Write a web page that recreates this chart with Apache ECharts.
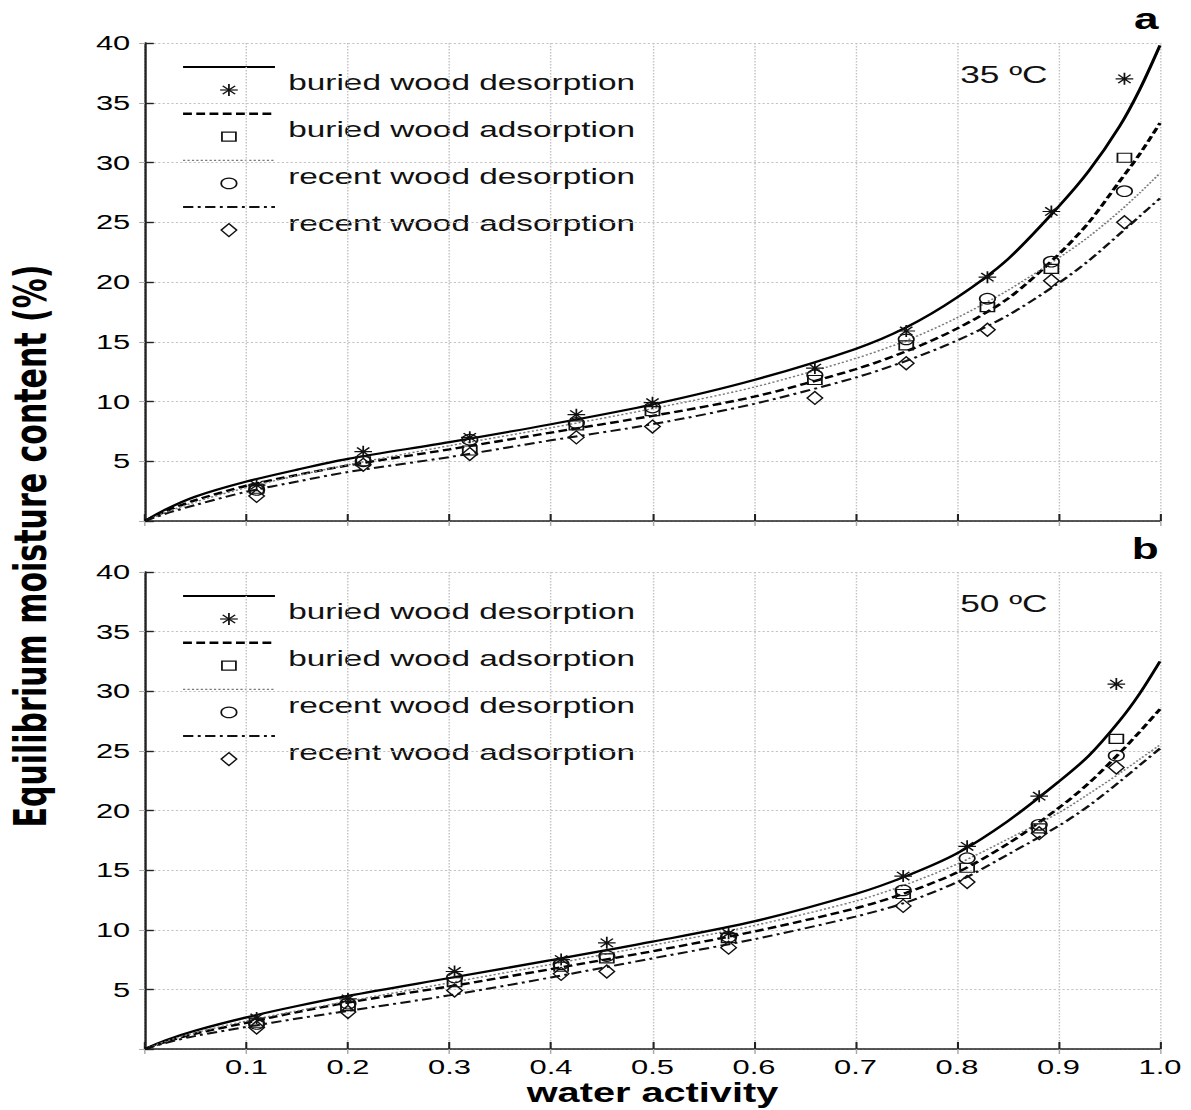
<!DOCTYPE html>
<html><head><meta charset="utf-8">
<script src="https://cdn.jsdelivr.net/npm/echarts@6/dist/echarts.min.js"></script>
<style>
html,body{margin:0;padding:0;background:#fff;overflow:hidden;}
#wrap{position:absolute;left:0;top:0;width:1191px;height:1110px;overflow:hidden;background:#fff;}
#chart{position:absolute;left:0;top:0;width:810px;height:1110px;transform:scaleX(1.47037);transform-origin:0 0;}
</style></head><body><div id="wrap"><div id="chart"></div></div>
<script>
// ---- data ----
const seriesNames = ['buried wood desorption', 'buried wood adsorption', 'recent wood desorption', 'recent wood adsorption'];
const panelTemps = ['35 ºC', '50 ºC'];
const panelLetters = ['a', 'b'];
const xTicks = [0.1, 0.2, 0.3, 0.4, 0.5, 0.6, 0.7, 0.8, 0.9, 1.0];
const yTicks = [5, 10, 15, 20, 25, 30, 35, 40];

// fitted model curves (water activity grid)
const awFit = [0, 0.02, 0.05, 0.1, 0.15, 0.2, 0.3, 0.4, 0.5, 0.6, 0.7, 0.75, 0.8, 0.85, 0.9, 0.93, 0.96, 0.98, 1.0];
// panel a, 35 ºC
const fitA_buriedDes = [0, 0.95, 2.05, 3.3, 4.3, 5.2, 6.6, 8.1, 9.75, 11.8, 14.4, 16.2, 18.7, 21.9, 26.3, 29.3, 33.0, 36.1, 39.8];
const fitA_buriedAds = [0, 0.8, 1.75, 2.95, 3.85, 4.65, 6.0, 7.4, 8.8, 10.4, 12.7, 14.2, 16.1, 18.6, 22.3, 25.0, 28.4, 30.7, 33.3];
const fitA_recentDes = [0, 0.7, 1.6, 2.8, 3.8, 4.7, 6.3, 7.8, 9.4, 11.2, 13.6, 15.1, 17.0, 19.3, 22.0, 23.8, 25.9, 27.45, 29.1];
const fitA_recentAds = [0, 0.6, 1.35, 2.45, 3.3, 4.1, 5.35, 6.75, 8.1, 9.8, 12.0, 13.4, 15.1, 17.2, 19.9, 21.8, 24.0, 25.5, 27.0];
// panel b, 50 ºC
const fitB_buriedDes = [0, 0.72, 1.55, 2.65, 3.6, 4.45, 5.95, 7.45, 9.0, 10.7, 13.0, 14.5, 16.4, 19.1, 22.4, 24.6, 27.5, 29.8, 32.5];
const fitB_buriedAds = [0, 0.58, 1.3, 2.2, 3.1, 3.9, 5.25, 6.7, 8.2, 9.85, 11.8, 13.1, 14.8, 17.2, 20.2, 22.3, 24.8, 26.6, 28.5];
const fitB_recentDes = [0, 0.62, 1.38, 2.35, 3.2, 4.0, 5.55, 7.1, 8.7, 10.35, 12.4, 13.8, 15.5, 17.6, 19.8, 21.4, 23.1, 24.3, 25.5];
const fitB_recentAds = [0, 0.5, 1.1, 1.85, 2.55, 3.2, 4.5, 6.0, 7.6, 9.2, 11.1, 12.3, 14.0, 16.3, 18.7, 20.4, 22.4, 23.8, 25.2];

// experimental points
const awA = [0.11, 0.215, 0.32, 0.425, 0.5, 0.66, 0.75, 0.83, 0.893, 0.965];
const expA_buriedDes = [3.0, 5.8, 7.0, 8.9, 9.9, 12.8, 15.9, 20.4, 25.9, 37.0];
const expA_buriedAds = [2.7, 5.0, 5.9, 8.0, 9.2, 11.8, 14.7, 17.9, 21.1, 30.4];
const expA_recentDes = [2.6, 5.0, 6.8, 8.2, 9.5, 12.2, 15.2, 18.6, 21.7, 27.6];
const expA_recentAds = [2.1, 4.7, 5.6, 7.0, 7.9, 10.3, 13.2, 16.0, 20.1, 25.0];

const awB = [0.11, 0.2, 0.305, 0.41, 0.455, 0.575, 0.747, 0.81, 0.881, 0.957];
const expB_buriedDes = [2.6, 4.2, 6.5, 7.5, 8.9, 9.7, 14.5, 17.0, 21.2, 30.6];
const expB_buriedAds = [2.2, 3.6, 5.6, 6.9, 7.6, 9.3, 13.0, 15.2, 18.5, 26.0];
const expB_recentDes = [2.1, 3.8, 6.0, 7.1, 7.8, 9.4, 13.3, 16.0, 18.8, 24.6];
const expB_recentAds = [1.8, 3.1, 4.9, 6.3, 6.5, 8.5, 12.0, 14.0, 18.1, 23.6];

// ---- build ----
const fitsByPanel = [
  [fitA_buriedDes, fitA_buriedAds, fitA_recentDes, fitA_recentAds],
  [fitB_buriedDes, fitB_buriedAds, fitB_recentDes, fitB_recentAds]
];
const expByPanel = [
  [expA_buriedDes, expA_buriedAds, expA_recentDes, expA_recentAds],
  [expB_buriedDes, expB_buriedAds, expB_recentDes, expB_recentAds]
];
const awByPanel = [awA, awB];

const lineStyles = [
  { color: '#000', width: 2.2, type: 'solid' },
  { color: '#000', width: 2.4, type: [6, 3] },
  { color: '#7a7a7a', width: 1.4, type: [1.5, 1.5] },
  { color: '#111', width: 2.0, type: [7, 3, 2, 3] }
];
const STAR = 'path://M10 0L10 20M0 10L20 10M3 3L17 17M17 3L3 17';
const markers = [
  { symbol: STAR, size: [12, 12] },
  { symbol: 'rect', size: [9.5, 9] },
  { symbol: 'circle', size: [10.5, 10.5] },
  { symbol: 'diamond', size: [10.5, 13] }
];

const GL = 98.6, GW = 690.3;
const grids = [
  { left: GL, top: 43, width: GW, height: 478 },
  { left: GL, top: 572, width: GW, height: 477 }
];

const xAxes = [], yAxes = [], series = [];
const gridLine = { show: true, lineStyle: { color: '#c4c4c4', width: 1, type: [1.5, 1.5] } };
[0, 1].forEach(p => {
  xAxes.push({
    type: 'value', gridIndex: p, min: 0, max: 1, interval: 0.1, position: 'bottom',
    axisLine: { show: true, onZero: false, lineStyle: { color: '#222', width: 1.6 } },
    axisTick: { show: true, inside: true, length: 7, lineStyle: { color: '#222', width: 1.4 } },
    axisLabel: {
      show: p === 1, margin: 7, color: '#000', fontSize: 21,
      fontFamily: '"Liberation Sans Narrow", "Liberation Sans", Arial, sans-serif',
      formatter: v => (xTicks.some(t => Math.abs(t - v) < 1e-6) ? v.toFixed(1) : '')
    },
    splitLine: gridLine,
    name: p === 1 ? 'water activity' : '', nameLocation: 'middle', nameGap: 30,
    nameTextStyle: { fontSize: 27, fontWeight: 'bold', color: '#000', fontFamily: '"Liberation Sans", Arial, sans-serif' }
  });
  xAxes.push({
    type: 'value', gridIndex: p, min: 0, max: 1, interval: 0.1, position: 'top',
    axisLine: { show: false },
    axisTick: { show: true, inside: true, length: 5, lineStyle: { color: '#aaa', width: 1 } },
    axisLabel: { show: false }, splitLine: { show: false }
  });
  yAxes.push({
    type: 'value', gridIndex: p, min: 0, max: 40, interval: 5, position: 'left',
    axisLine: { show: true, onZero: false, lineStyle: { color: '#222', width: 1.6 } },
    axisTick: { show: true, inside: true, length: 6, lineStyle: { color: '#222', width: 1.4 } },
    axisLabel: {
      margin: 10, color: '#000', fontSize: 21,
      fontFamily: '"Liberation Sans", Arial, sans-serif',
      formatter: v => (yTicks.indexOf(v) >= 0 ? String(v) : '')
    },
    splitLine: gridLine
  });
  yAxes.push({
    type: 'value', gridIndex: p, min: 0, max: 40, interval: 5, position: 'right',
    axisLine: { show: false },
    axisTick: { show: true, inside: true, length: 4, lineStyle: { color: '#aaa', width: 1 } },
    axisLabel: { show: false }, splitLine: { show: false }
  });
  const xi = p * 2, yi = p * 2;
  fitsByPanel[p].forEach((vals, k) => {
    series.push({
      type: 'line', name: seriesNames[k], xAxisIndex: xi, yAxisIndex: yi,
      data: awFit.map((x, i) => [x, vals[i]]),
      showSymbol: false, smooth: 0.3,
      lineStyle: lineStyles[k], z: 2, silent: true
    });
  });
  expByPanel[p].forEach((vals, k) => {
    series.push({
      type: 'scatter', name: seriesNames[k], xAxisIndex: xi, yAxisIndex: yi,
      data: awByPanel[p].map((x, i) => [x, vals[i]]),
      symbol: markers[k].symbol, symbolSize: markers[k].size,
      itemStyle: { color: 'rgba(0,0,0,0)', borderColor: '#111', borderWidth: 1.2, opacity: 1 },
      z: 3, silent: true
    });
  });
});

// legend drawn as graphic (line sample above marker, text to the right)
const graphics = [];
const LX1 = 124.5, LX2 = 187, MX = 155.7, TX = 196;
[0, 1].forEach(p => {
  const dy = p * 529;
  seriesNames.forEach((nm, k) => {
    const ly = 67 + k * 46.7 + dy, my = 90 + k * 46.7 + dy, ty = 82 + k * 47 + dy;
    const ls = lineStyles[k];
    graphics.push({ type: 'line', shape: { x1: LX1, y1: ly, x2: LX2, y2: ly },
      style: { stroke: ls.color, lineWidth: ls.width, lineDash: ls.type === 'solid' ? null : ls.type }, silent: true });
    const st = { stroke: '#111', fill: 'none', lineWidth: 1.2 };
    if (k === 0) {
      const r = 6, d = 4.2;
      [[0, -r, 0, r], [-r, 0, r, 0], [-d, -d, d, d], [d, -d, -d, d]].forEach(s => {
        graphics.push({ type: 'line', shape: { x1: MX + s[0], y1: my + s[1], x2: MX + s[2], y2: my + s[3] }, style: st, silent: true });
      });
    } else if (k === 1) {
      graphics.push({ type: 'rect', shape: { x: MX - 4.75, y: my - 4.5, width: 9.5, height: 9 }, style: st, silent: true });
    } else if (k === 2) {
      graphics.push({ type: 'circle', shape: { cx: MX, cy: my, r: 5.25 }, style: st, silent: true });
    } else {
      graphics.push({ type: 'polygon', shape: { points: [[MX, my - 6.5], [MX + 5.25, my], [MX, my + 6.5], [MX - 5.25, my]] }, style: st, silent: true });
    }
    graphics.push({ type: 'text', x: TX, y: ty, silent: true,
      style: { text: nm, fill: '#111', font: '22.7px "Liberation Sans", Arial, sans-serif', textAlign: 'left', textVerticalAlign: 'middle' } });
  });
  graphics.push({ type: 'text', x: 653, y: 75 + dy, silent: true,
    style: { text: panelTemps[p], fill: '#111', font: '24px "Liberation Sans", Arial, sans-serif', textAlign: 'left', textVerticalAlign: 'middle' } });
  graphics.push({ type: 'text', x: 788, y: 19 + p * 530, silent: true,
    style: { text: panelLetters[p], fill: '#000', font: 'bold 30px "Liberation Sans", Arial, sans-serif', textAlign: 'right', textVerticalAlign: 'middle' } });
});
graphics.push({ type: 'text', x: 21, y: 546, rotation: Math.PI / 2, silent: true,
  style: { text: 'Equilibrium moisture content (%)', fill: '#000', font: 'bold 30px "DejaVu Sans", sans-serif', textAlign: 'center', textVerticalAlign: 'middle' } });

const chart = echarts.init(document.getElementById('chart'), null, { renderer: 'svg' });
chart.setOption({
  animation: false,
  backgroundColor: '#fff',
  grid: grids,
  xAxis: xAxes,
  yAxis: yAxes,
  series: series,
  graphic: graphics,
  legend: { show: false },
  tooltip: { show: false }
});
</script>
</body></html>
